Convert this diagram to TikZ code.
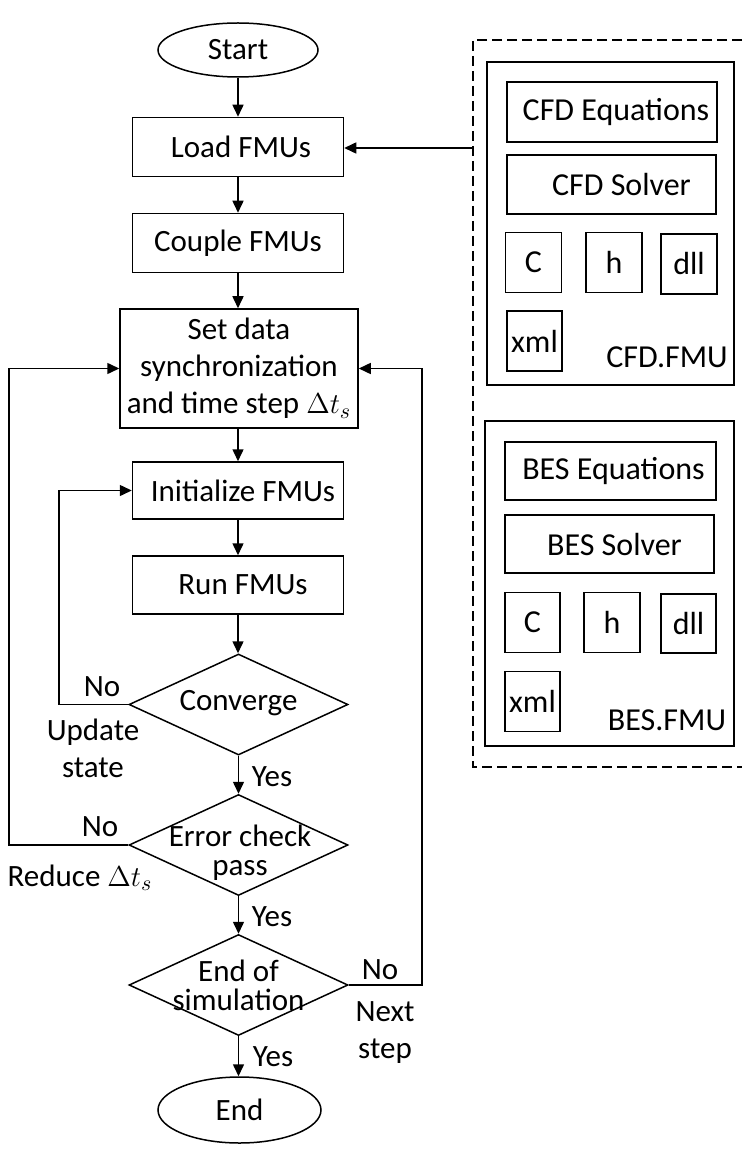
\documentclass[tikz,border=0pt]{standalone}
\usepackage{fontspec}
\setmainfont{Carlito}
\usetikzlibrary{shapes.geometric,arrows.meta}

\begin{document}
\begin{tikzpicture}[x=0.5pt,y=-0.5pt,
  line width=0.75pt,
  every node/.style={font=\fontsize{15.5}{18}\selectfont, inner sep=0pt},
  arr/.style={-{Triangle[length=6pt,width=5.5pt]}},
  stepbox/.style={draw, rectangle, minimum width=105.5pt, minimum height=29.5pt},
  term/.style={draw, ellipse},
  decision/.style={draw, diamond, shape aspect=2.17, minimum width=109.5pt, minimum height=50.5pt},
  dtext/.style={align=center, font=\fontsize{15.5}{14.5}\selectfont},
  part/.style={draw, rectangle},
  filebox/.style={draw, rectangle, minimum width=28pt, minimum height=30pt, font=\fontsize{16}{18}\selectfont},
  lbl/.style={align=center, font=\fontsize{15.5}{18.5}\selectfont}
]
\useasboundingbox (0,0) rectangle (746,1160);

% main flow
\node[term, minimum width=80pt, minimum height=27pt] (start) at (238,50) {Start};
\node[stepbox] (load) at (238,147) {\hspace*{3pt}Load FMUs};
\node[stepbox] (couple) at (238,243) {Couple FMUs};
\node[draw, rectangle, minimum width=119pt, minimum height=59.5pt, align=center,
  font=\fontsize{15.5}{18.5}\selectfont] (setd) at (239,368.5)
  {Set data\\synchronization\\and time step $\Delta t_s$};
\node[stepbox, minimum height=28.5pt] (init) at (238,490.5) {\hspace*{5pt}Initialize FMUs};
\node[stepbox, minimum height=29pt] (run) at (238,585) {\hspace*{5pt}Run FMUs};
\node[decision] (conv) at (238.5,704.5) {};
\node[dtext] (convt) at (238.5,703) {Converge};
\node[decision] (errc) at (238.5,845) {};
\node[dtext] (errct) at (240,853) {Error check\\pass};
\node[decision] (endsim) at (238.5,985) {};
\node[dtext] (endsimt) at (238.5,985) {End of\\simulation};
\node[term, minimum width=81.5pt, minimum height=33pt] (endn) at (239.5,1110) {End};

\draw[arr] (start.south) -- (load.north);
\draw[arr] (load.south) -- (couple.north);
\draw[arr] (couple.south) -- (couple.south |- setd.north);
\draw[arr] (setd.south -| init.north) -- (init.north);
\draw[arr] (init.south) -- (run.north);
\draw[arr] (run.south) -- (run.south |- conv.north);
\draw[arr] (conv.south) -- (errc.north);
\draw[arr] (errc.south) -- (endsim.north);
\draw[arr] (endsim.south) -- (endsim.south |- endn.north);

% feedback loops
\coordinate (lx) at (9,0);
\coordinate (ix) at (59,0);
\coordinate (rx) at (422,0);
\draw[arr] (errc.west) -- (errc.west -| lx) |- (setd.west);
\draw[arr] (conv.west) -- (conv.west -| ix) |- (init.west);
\draw[arr] (endsim.east) -- (endsim.east -| rx) |- (setd.east);

% branch labels
\node (no1) at (102,687) {No};
\node[lbl] (upd) at (93,748) {Update\\state};
\node (yes1) at (272,777) {Yes};
\node (no2) at (100,827) {No};
\node (red) at (80,878) {Reduce $\Delta t_s$};
\node (yes2) at (272,917) {Yes};
\node (no3) at (380,970) {No};
\node[lbl] (nxt) at (385,1033) {Next\\step};
\node (yes3) at (273,1057) {Yes};

% FMU container
\draw[dash pattern=on 5pt off 2.5pt] (742,40) -- (473,40) -- (473,767) -- (742,767);
\coordinate (dl) at (473,148);
\draw[arr] (dl) -- (load.east |- dl);

% CFD.FMU
\node[part, minimum width=123.5pt, minimum height=161.5pt] (cfd) at (610.5,223.5) {};
\node[part, minimum width=105pt, minimum height=30pt, font=\fontsize{16}{18}\selectfont] (cfdeq) at (612,112) {\hspace*{4pt}CFD Equations};
\node[part, minimum width=104.5pt, minimum height=29.5pt, font=\fontsize{16}{18}\selectfont] (cfdsv) at (611.5,184.5) {\hspace*{10pt}CFD Solver};
\node[filebox] (cfdc) at (533.5,262.5) {C};
\node[filebox] (cfdh) at (614,262.5) {h};
\node[filebox] (cfddll) at (689,264) {dll};
\node[filebox, minimum width=27.5pt] (cfdxml) at (534.5,341) {xml};
\node[font=\fontsize{16}{18}\selectfont] (cfdname) at (667,357) {CFD.FMU};

% BES.FMU
\node[part, minimum width=124.5pt, minimum height=162.5pt] (bes) at (609.5,583.5) {};
\node[part, minimum width=105.5pt, minimum height=29pt, font=\fontsize{16}{18}\selectfont] (beseq) at (610.5,471) {\hspace*{3pt}BES Equations};
\node[part, minimum width=104.5pt, minimum height=29pt, font=\fontsize{16}{18}\selectfont] (bessv) at (609.5,544) {\hspace*{5pt}BES Solver};
\node[filebox, minimum width=27.5pt] (besc) at (532.5,622.5) {C};
\node[filebox] (besh) at (612,622.5) {h};
\node[filebox, minimum width=27.5pt, minimum height=29.5pt] (besdll) at (688.5,623.5) {dll};
\node[filebox, minimum width=27.5pt] (besxml) at (532.5,701.5) {xml};
\node[font=\fontsize{16}{18}\selectfont] (besname) at (667,720) {BES.FMU};

\end{tikzpicture}
\end{document}
